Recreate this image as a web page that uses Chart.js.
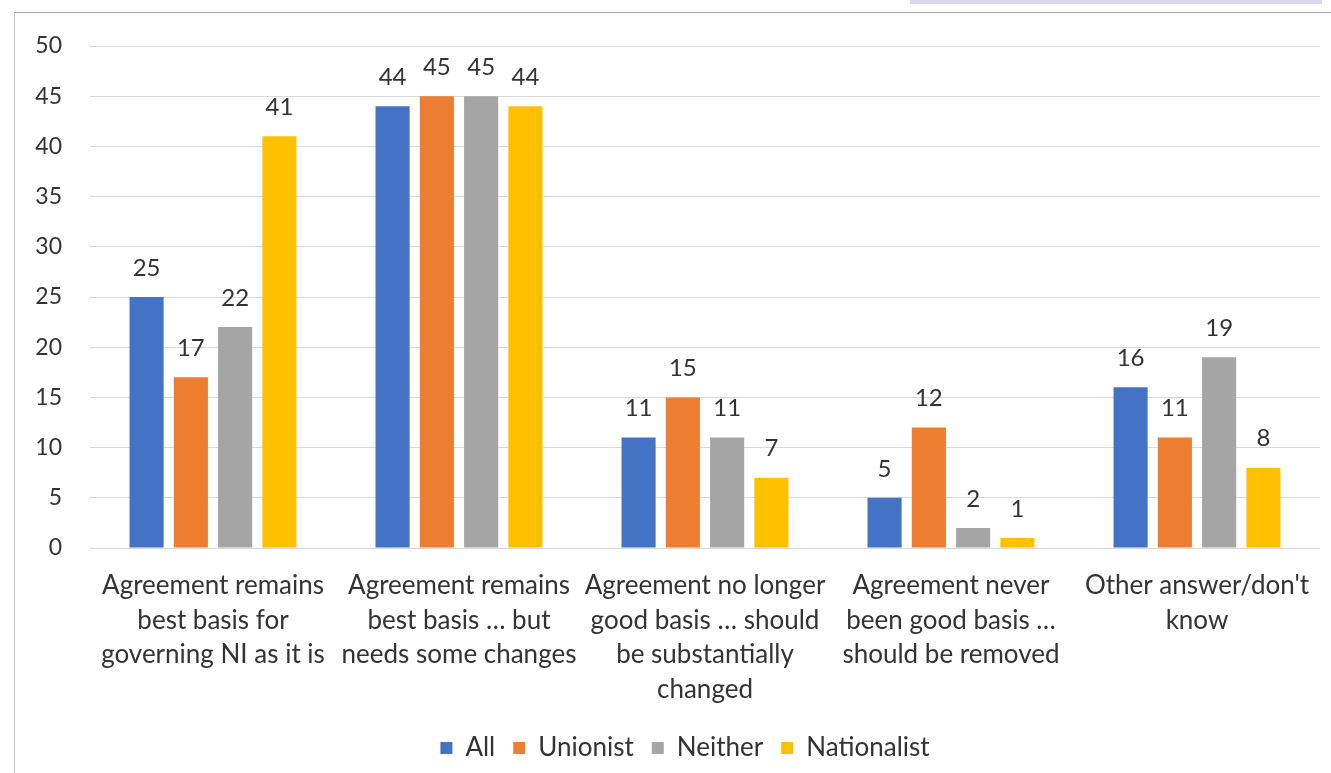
<!DOCTYPE html>
<html>
<head>
<meta charset="utf-8">
<script src="https://cdn.jsdelivr.net/npm/chart.js@4.4.1/dist/chart.umd.min.js"></script>
<style>
  html, body { margin: 0; padding: 0; background: #fff; }
  #wrap { position: relative; width: 1331px; height: 773px; overflow: hidden; }
  #frame { position: absolute; left: 14px; top: 12px; right: 0; bottom: 0; border-left: 1px solid #c8c8c8; border-top: 1px solid #a8a8a8; }
  #tab { position: absolute; left: 910px; top: 0; width: 412px; height: 4px; background: #dcd9eb; }
  canvas { position: absolute; left: 0; top: 0; }
</style>
</head>
<body>
<div id="wrap">
  <div id="tab"></div>
  <div id="frame"></div>
  <canvas id="c" width="1331" height="773"></canvas>
</div>
<script>
const categories = [
  ["Agreement remains", "best basis for", "governing NI as it is"],
  ["Agreement remains", "best basis \u2026 but", "needs some changes"],
  ["Agreement no longer", "good basis \u2026 should", "be substantially", "changed"],
  ["Agreement never", "been good basis \u2026", "should be removed"],
  ["Other answer/don't", "know"]
];
const seriesNames = ["All", "Unionist", "Neither", "Nationalist"];
const allValues = [25, 44, 11, 5, 16];
const unionistValues = [17, 45, 15, 12, 11];
const neitherValues = [22, 45, 11, 2, 19];
const nationalistValues = [41, 44, 7, 1, 8];
const yTicks = [0, 5, 10, 15, 20, 25, 30, 35, 40, 45, 50];
const colors = ["#4472C4", "#ED7D31", "#A5A5A5", "#FFC000"];

const FONT = "Lato, 'Open Sans', sans-serif";
const TEXT = "#333333";

const valueLabels = {
  id: "valueLabels",
  afterDatasetsDraw(chart) {
    const ctx = chart.ctx;
    ctx.save();
    ctx.font = "24px " + FONT;
    ctx.fillStyle = TEXT;
    ctx.textAlign = "center";
    ctx.textBaseline = "middle";
    chart.data.datasets.forEach((ds, i) => {
      const meta = chart.getDatasetMeta(i);
      meta.data.forEach((bar, j) => {
        ctx.fillText(String(ds.data[j]), bar.x, bar.y - 29);
      });
    });
    ctx.restore();
  }
};

// centre the legend under the plot area instead of the whole canvas
const legendShift = {
  id: "legendShift",
  afterLayout(chart) {
    const lg = chart.legend;
    if (!lg) return;
    const ca = chart.chartArea;
    const shift = (ca.left + ca.right) / 2 - (lg.left + lg.right) / 2 - 20;
    lg.left += shift;
    lg.right += shift;
  }
};

new Chart(document.getElementById("c"), {
  type: "bar",
  data: {
    labels: categories,
    datasets: [
      { label: seriesNames[0], data: allValues, backgroundColor: colors[0] },
      { label: seriesNames[1], data: unionistValues, backgroundColor: colors[1] },
      { label: seriesNames[2], data: neitherValues, backgroundColor: colors[2] },
      { label: seriesNames[3], data: nationalistValues, backgroundColor: colors[3] }
    ]
  },
  options: {
    responsive: false,
    animation: false,
    devicePixelRatio: 1,
    layout: { padding: { top: 46, right: 11, bottom: 2, left: 0 } },
    datasets: { bar: { categoryPercentage: 0.72, barPercentage: 0.77 } },
    scales: {
      x: {
        grid: { display: false, drawTicks: false },
        border: { display: false },
        ticks: { color: TEXT, font: { family: FONT, size: 26, lineHeight: 1.34 }, padding: 20, maxRotation: 0, autoSkip: false },
        afterFit(scale) { scale.height = 169; }
      },
      y: {
        min: 0, max: 50,
        afterBuildTicks(scale) { scale.ticks = yTicks.map(v => ({ value: v })); },
        grid: { color: "#d9d9d9", lineWidth: 1, drawTicks: false },
        border: { display: false },
        ticks: { color: TEXT, font: { family: FONT, size: 23 }, padding: 28 },
        afterFit(scale) { scale.width = 90; }
      }
    },
    plugins: {
      legend: {
        position: "bottom",
        labels: { color: TEXT, font: { family: FONT, size: 26 }, boxWidth: 12, boxHeight: 12, padding: 18 }
      },
      tooltip: { enabled: false }
    }
  },
  plugins: [valueLabels, legendShift]
});
</script>
</body>
</html>
